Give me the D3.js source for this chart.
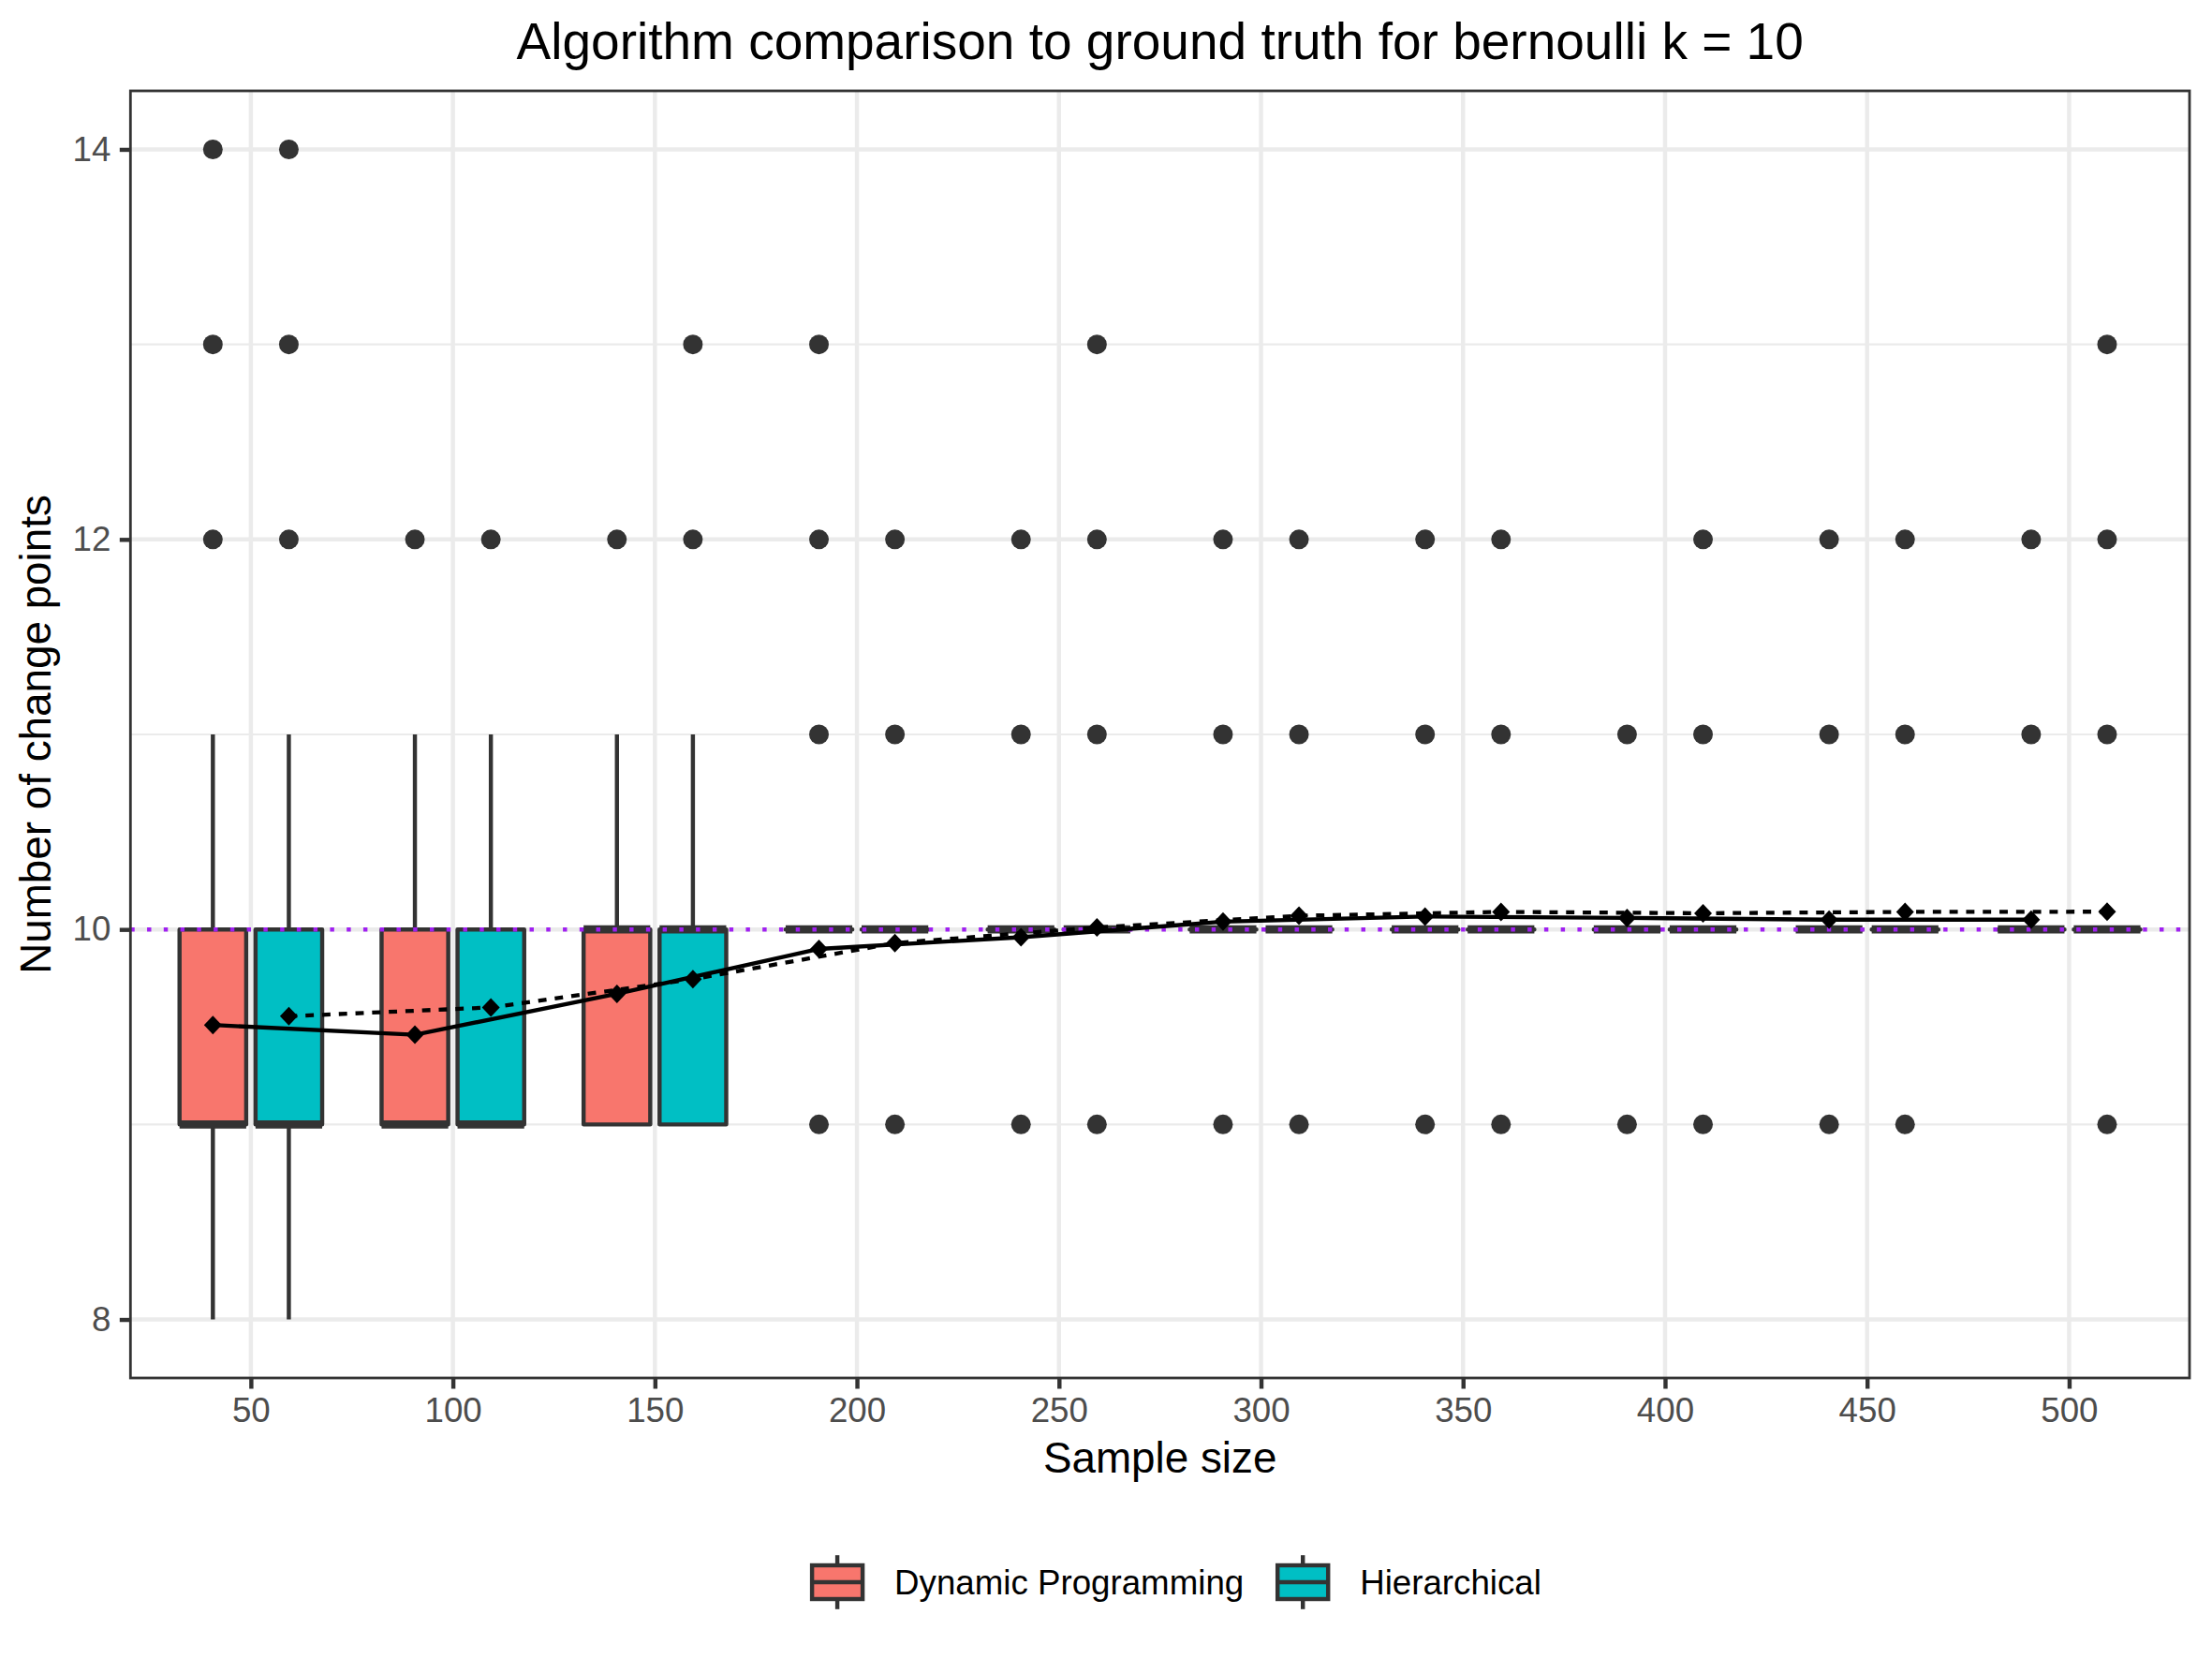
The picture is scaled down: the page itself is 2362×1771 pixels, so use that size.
<!DOCTYPE html>
<html>
<head>
<meta charset="utf-8">
<script src="https://cdn.jsdelivr.net/npm/d3@7"></script>
<style>
  body { margin: 0; background: #fff; }
  text { font-family: "Liberation Sans", Arial, Helvetica, sans-serif; }
</style>
</head>
<body>
<div id="chart"></div>
<script>
// ---- data ----
const sampleSizes = [50, 100, 150, 200, 250, 300, 350, 400, 450, 500];
const algorithms = ["Dynamic Programming", "Hierarchical"];
const fills = ["#F8766D", "#00BFC4"];

const dpLower  = [8, 9, 9, 10, 10, 10, 10, 10, 10, 10];
const dpQ1     = [9, 9, 9, 10, 10, 10, 10, 10, 10, 10];
const dpMedian = [9, 9, 10, 10, 10, 10, 10, 10, 10, 10];
const dpQ3     = [10, 10, 10, 10, 10, 10, 10, 10, 10, 10];
const dpUpper  = [11, 11, 11, 10, 10, 10, 10, 10, 10, 10];
const dpOutliers = [[12, 13, 14], [12], [12], [9, 11, 12, 13], [9, 11, 12],
                    [9, 11, 12], [9, 11, 12], [9, 11], [9, 11, 12], [11, 12]];
const dpMeans = [9.51, 9.46, 9.67, 9.90, 9.96, 10.04, 10.066, 10.059, 10.05, 10.05];

const hLower  = [8, 9, 9, 10, 10, 10, 10, 10, 10, 10];
const hQ1     = [9, 9, 9, 10, 10, 10, 10, 10, 10, 10];
const hMedian = [9, 9, 10, 10, 10, 10, 10, 10, 10, 10];
const hQ3     = [10, 10, 10, 10, 10, 10, 10, 10, 10, 10];
const hUpper  = [11, 11, 11, 10, 10, 10, 10, 10, 10, 10];
const hOutliers = [[12, 13, 14], [12], [12, 13], [9, 11, 12], [9, 11, 12, 13],
                   [9, 11, 12], [9, 11, 12], [9, 11, 12], [9, 11, 12], [9, 11, 12, 13]];
const hMeans = [9.555, 9.60, 9.745, 9.93, 10.01, 10.07, 10.09, 10.083, 10.09, 10.091];

const yTicks = [8, 10, 12, 14];
const yMinor = [9, 11, 13];
const trueK = 10;

const series = [
    {name: algorithms[0], fill: fills[0], lower: dpLower, q1: dpQ1, median: dpMedian, q3: dpQ3, upper: dpUpper, outliers: dpOutliers, means: dpMeans, offset: -9.4, dash: null},
    {name: algorithms[1], fill: fills[1], lower: hLower, q1: hQ1, median: hMedian, q3: hQ3, upper: hUpper, outliers: hOutliers, means: hMeans, offset: 9.4, dash: "8.9 8.9"}
];

// ---- layout (300 dpi, ggplot theme_bw look) ----
const W = 2362, H = 1771;
const panel = {left: 139.3, right: 2338, top: 97, bottom: 1471};
const lw = 4.44;          // 0.5 mm line
const grey20 = "#333333";
const boxWidth = 16.5;    // in x units

const x = d3.scaleLinear().domain([20.2, 529.8]).range([panel.left, panel.right]);
const y = d3.scaleLinear().domain([7.7, 14.3]).range([panel.bottom, panel.top]);

const svg = d3.select("#chart").append("svg")
    .attr("width", W)
    .attr("height", H)
    .style("display", "block");

svg.append("rect").attr("width", W).attr("height", H).attr("fill", "#fff");

// grid
const grid = svg.append("g").attr("stroke", "#EBEBEB").attr("fill", "none");
grid.selectAll(".minor").data(yMinor).join("line")
    .attr("x1", panel.left).attr("x2", panel.right)
    .attr("y1", d => y(d)).attr("y2", d => y(d))
    .attr("stroke-width", lw / 2);
grid.selectAll(".majory").data(yTicks).join("line")
    .attr("x1", panel.left).attr("x2", panel.right)
    .attr("y1", d => y(d)).attr("y2", d => y(d))
    .attr("stroke-width", lw);
grid.selectAll(".majorx").data(sampleSizes).join("line")
    .attr("x1", d => x(d)).attr("x2", d => x(d))
    .attr("y1", panel.top).attr("y2", panel.bottom)
    .attr("stroke-width", lw);

// boxplots
const boxes = svg.append("g");
series.forEach(s => {
    sampleSizes.forEach((n, i) => {
        const cx = n + s.offset;
        const x0 = x(cx - boxWidth / 2), x1 = x(cx + boxWidth / 2);
        const g = boxes.append("g");

        g.selectAll("circle").data(s.outliers[i]).join("circle")
            .attr("cx", x(cx))
            .attr("cy", d => y(d))
            .attr("r", 10.5)
            .attr("fill", grey20);

        if (s.upper[i] > s.q3[i]) {
            g.append("line")
                .attr("x1", x(cx)).attr("x2", x(cx))
                .attr("y1", y(s.q3[i])).attr("y2", y(s.upper[i]))
                .attr("stroke", grey20).attr("stroke-width", lw);
        }
        if (s.lower[i] < s.q1[i]) {
            g.append("line")
                .attr("x1", x(cx)).attr("x2", x(cx))
                .attr("y1", y(s.q1[i])).attr("y2", y(s.lower[i]))
                .attr("stroke", grey20).attr("stroke-width", lw);
        }

        g.append("path")
            .attr("d", `M${x0},${y(s.q3[i])}H${x1}V${y(s.q1[i])}H${x0}Z`)
            .attr("fill", s.fill)
            .attr("stroke", grey20)
            .attr("stroke-width", lw)
            .attr("stroke-linejoin", "round");

        g.append("line")
            .attr("x1", x0).attr("x2", x1)
            .attr("y1", y(s.median[i])).attr("y2", y(s.median[i]))
            .attr("stroke", grey20)
            .attr("stroke-width", lw * 2);
    });
});

// ground truth
svg.append("line")
    .attr("x1", panel.left).attr("x2", panel.right)
    .attr("y1", y(trueK)).attr("y2", y(trueK))
    .attr("stroke", "#A020F0")
    .attr("stroke-width", lw)
    .attr("stroke-dasharray", "4.44 13.32");

// mean lines and points
const line = d3.line().x(d => x(d[0])).y(d => y(d[1]));
const diamond = (cx, cy) => `M${cx},${cy - 10}L${cx + 9.5},${cy}L${cx},${cy + 10}L${cx - 9.5},${cy}Z`;

series.forEach(s => {
    const pts = sampleSizes.map((n, i) => [n + s.offset, s.means[i]]);
    svg.append("path")
        .datum(pts)
        .attr("d", line)
        .attr("fill", "none")
        .attr("stroke", "#000")
        .attr("stroke-width", 4.3)
        .attr("stroke-dasharray", s.dash);
    svg.append("g").selectAll("path").data(pts).join("path")
        .attr("d", d => diamond(x(d[0]), y(d[1])))
        .attr("fill", "#000");
});

// panel border
svg.append("rect")
    .attr("x", panel.left).attr("y", panel.top)
    .attr("width", panel.right - panel.left)
    .attr("height", panel.bottom - panel.top)
    .attr("fill", "none")
    .attr("stroke", grey20)
    .attr("stroke-width", 2.8);

// axes
const styleAxis = g => {
    g.select(".domain").remove();
    g.selectAll(".tick line").attr("stroke", grey20).attr("stroke-width", lw);
    g.selectAll(".tick text")
        .attr("fill", "#4D4D4D")
        .style("font-size", "36.7px")
        .style("font-family", '"Liberation Sans", Arial, Helvetica, sans-serif');
};

svg.append("g")
    .attr("transform", `translate(0,${panel.bottom})`)
    .call(d3.axisBottom(x).tickValues(sampleSizes).tickFormat(d3.format("d")).tickSize(11.5).tickPadding(9.5))
    .call(styleAxis);

svg.append("g")
    .attr("transform", `translate(${panel.left},0)`)
    .call(d3.axisLeft(y).tickValues(yTicks).tickFormat(d3.format("d")).tickSize(11.5).tickPadding(9.5))
    .call(styleAxis);

// titles
const midX = (panel.left + panel.right) / 2;
svg.append("text")
    .attr("x", midX).attr("y", 62.5)
    .attr("text-anchor", "middle")
    .style("font-size", "55px")
    .text("Algorithm comparison to ground truth for bernoulli k = 10");

svg.append("text")
    .attr("x", midX).attr("y", 1572)
    .attr("text-anchor", "middle")
    .style("font-size", "45.8px")
    .text("Sample size");

svg.append("text")
    .attr("transform", `translate(54,${(panel.top + panel.bottom) / 2}) rotate(-90)`)
    .attr("text-anchor", "middle")
    .style("font-size", "45.8px")
    .text("Number of change points");

// legend
const key = 72, legendCy = 1689;
const legend = svg.append("g");
let cursor = 0;
series.forEach(s => {
    const item = legend.append("g").attr("transform", `translate(${cursor},0)`);
    const top = legendCy - key / 2;
    item.append("line")
        .attr("x1", key / 2).attr("x2", key / 2)
        .attr("y1", top + key * 0.1).attr("y2", top + key * 0.9)
        .attr("stroke", grey20).attr("stroke-width", lw);
    item.append("rect")
        .attr("x", key * 0.125).attr("y", top + key * 0.25)
        .attr("width", key * 0.75).attr("height", key * 0.5)
        .attr("fill", s.fill)
        .attr("stroke", grey20).attr("stroke-width", lw);
    item.append("line")
        .attr("x1", key * 0.125).attr("x2", key * 0.875)
        .attr("y1", legendCy).attr("y2", legendCy)
        .attr("stroke", grey20).attr("stroke-width", lw);
    const t = item.append("text")
        .attr("x", key + 25).attr("y", legendCy + 13)
        .style("font-size", "36.7px")
        .text(s.name);
    cursor += key + 25 + t.node().getComputedTextLength() + 27;
});
const legendWidth = cursor - 27;
legend.attr("transform", `translate(${1252 - legendWidth / 2},0)`);
</script>
</body>
</html>
